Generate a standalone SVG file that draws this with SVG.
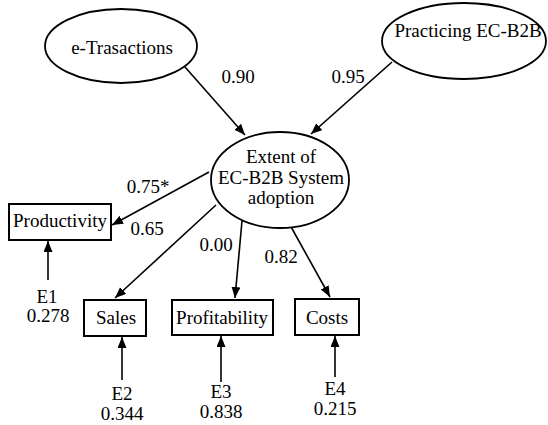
<svg xmlns="http://www.w3.org/2000/svg" width="548" height="425" viewBox="0 0 548 425" font-family="'Liberation Serif', 'DejaVu Serif', serif">
<defs>
<marker id="ah" markerUnits="userSpaceOnUse" markerWidth="12" markerHeight="10" refX="11" refY="4.5" orient="auto">
<path d="M0,0 L11,4.5 L0,9 z" fill="#000"/>
</marker>
<style>
text{font-family:'Liberation Serif','DejaVu Serif',serif;font-size:19px;fill:#000;text-anchor:middle}
.ell{fill:#fff;stroke:#000;stroke-width:1.8}
.box{fill:#fff;stroke:#000;stroke-width:2}
.con{stroke:#000;stroke-width:1.6;fill:none;marker-end:url(#ah)}
</style>
</defs>
<rect width="548" height="425" fill="#fff"/>
<g id="connectors">
<line class="con" x1="185" y1="67" x2="245" y2="135"/>
<line class="con" x1="392" y1="62" x2="311" y2="134"/>
<line class="con" x1="209" y1="172" x2="112" y2="225"/>
<line class="con" x1="216" y1="205" x2="115" y2="298"/>
<line class="con" x1="242" y1="221" x2="235" y2="298"/>
<line class="con" x1="290" y1="225" x2="330" y2="297"/>
<line class="con" x1="48" y1="280" x2="48" y2="241"/>
<line class="con" x1="122" y1="380" x2="122" y2="337"/>
<line class="con" x1="221" y1="382" x2="221" y2="336"/>
<line class="con" x1="335" y1="377" x2="335" y2="336"/>
<text x="238" y="83">0.90</text>
<text x="348" y="83">0.95</text>
<text x="148" y="193">0.75*</text>
<text x="147" y="235">0.65</text>
<text x="216" y="251">0.00</text>
<text x="281" y="263">0.82</text>
</g>
<g id="e-trasactions">
<ellipse class="ell" cx="121" cy="46" rx="76" ry="37"/>
<text x="122" y="54">e-Trasactions</text>
</g>
<g id="practicing">
<ellipse class="ell" cx="464" cy="41" rx="82" ry="38"/>
<text x="468" y="37">Practicing EC-B2B</text>
</g>
<g id="extent">
<ellipse class="ell" cx="280" cy="180" rx="69" ry="48"/>
<text x="281" y="163">Extent of</text>
<text x="281" y="184">EC-B2B System</text>
<text x="281" y="204">adoption</text>
</g>
<g id="productivity">
<rect class="box" x="9" y="204" width="102" height="36"/>
<text x="60" y="227">Productivity</text>
</g>
<g id="sales">
<rect class="box" x="84" y="300" width="62" height="36"/>
<text x="116" y="324">Sales</text>
</g>
<g id="profitability">
<rect class="box" x="172" y="300" width="101" height="35"/>
<text x="222" y="324">Profitability</text>
</g>
<g id="costs">
<rect class="box" x="295" y="299" width="64" height="36"/>
<text x="327" y="324">Costs</text>
</g>
<g id="e1">
<text x="47" y="303">E1</text>
<text x="48" y="322">0.278</text>
</g>
<g id="e2">
<text x="122" y="400">E2</text>
<text x="122" y="420">0.344</text>
</g>
<g id="e3">
<text x="221" y="398">E3</text>
<text x="221" y="418">0.838</text>
</g>
<g id="e4">
<text x="335" y="395">E4</text>
<text x="335" y="415">0.215</text>
</g>
</svg>
